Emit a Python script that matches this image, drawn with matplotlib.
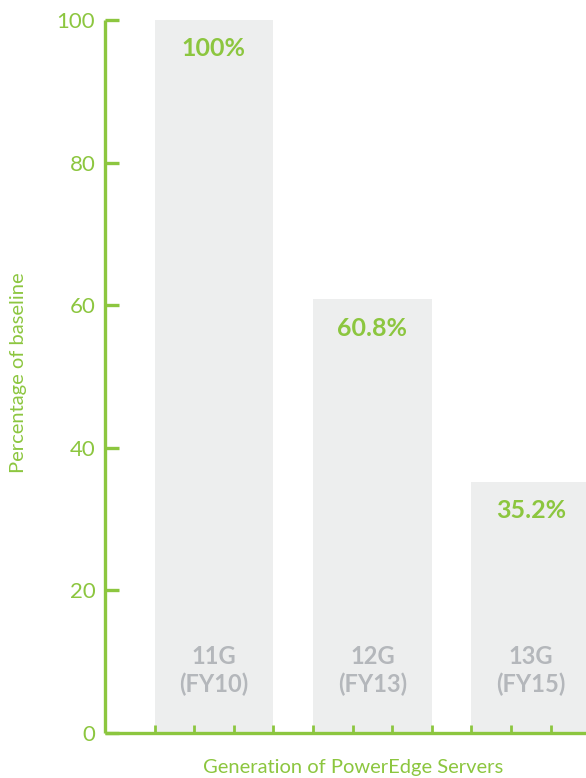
import matplotlib.pyplot as plt

# data
categories = ["11G\n(FY10)", "12G\n(FY13)", "13G\n(FY15)"]
values = [100, 60.8, 35.2]
value_labels = ["100%", "60.8%", "35.2%"]
yticks = [0, 20, 40, 60, 80, 100]

GREEN = "#8cc63f"
BAR = "#edeeee"
GREY = "#b4b7bb"

plt.rcParams["font.family"] = ["Lato", "DejaVu Sans"]

fig = plt.figure(figsize=(5.86, 7.78), dpi=100)
ax = fig.add_axes([105 / 586, 45 / 778, 1 - 105 / 586, 713 / 778])

centers = [2.75 + 4 * i for i in range(len(values))]
ax.bar(centers, values, width=3, color=BAR, zorder=1)

for c, v, lab, cat in zip(centers, values, value_labels, categories):
    ax.text(c, v - 4, lab, ha="center", va="center", color=GREEN,
            fontsize=18, fontweight="bold")
    ax.text(c, 8.8, cat, ha="center", va="center", color=GREY,
            fontsize=17, fontweight="bold", linespacing=1.25)

ax.set_xlim(0, 481 / 39.6)
ax.set_ylim(0, 100)
ax.set_yticks(yticks)
ax.set_xticks([1.25 + k for k in range(11)])
ax.set_xticklabels([])

for s in ["top", "right"]:
    ax.spines[s].set_visible(False)
for s in ["left", "bottom"]:
    ax.spines[s].set_color(GREEN)
    ax.spines[s].set_linewidth(2.4)
    ax.spines[s].set_capstyle("butt")

ax.tick_params(axis="y", direction="in", length=10, width=2.4, color=GREEN,
               labelcolor=GREEN, labelsize=16, pad=7)
ax.tick_params(axis="x", direction="in", length=6, width=2, color=GREEN)

ax.set_ylabel("Percentage of baseline", color=GREEN, fontsize=14.5)
ax.set_xlabel("Generation of PowerEdge Servers", color=GREEN, fontsize=14.5)
ax.yaxis.set_label_coords(-0.162, 0.506)
ax.xaxis.set_label_coords(0.516, -0.036)

fig.savefig("out.png", dpi=100)
